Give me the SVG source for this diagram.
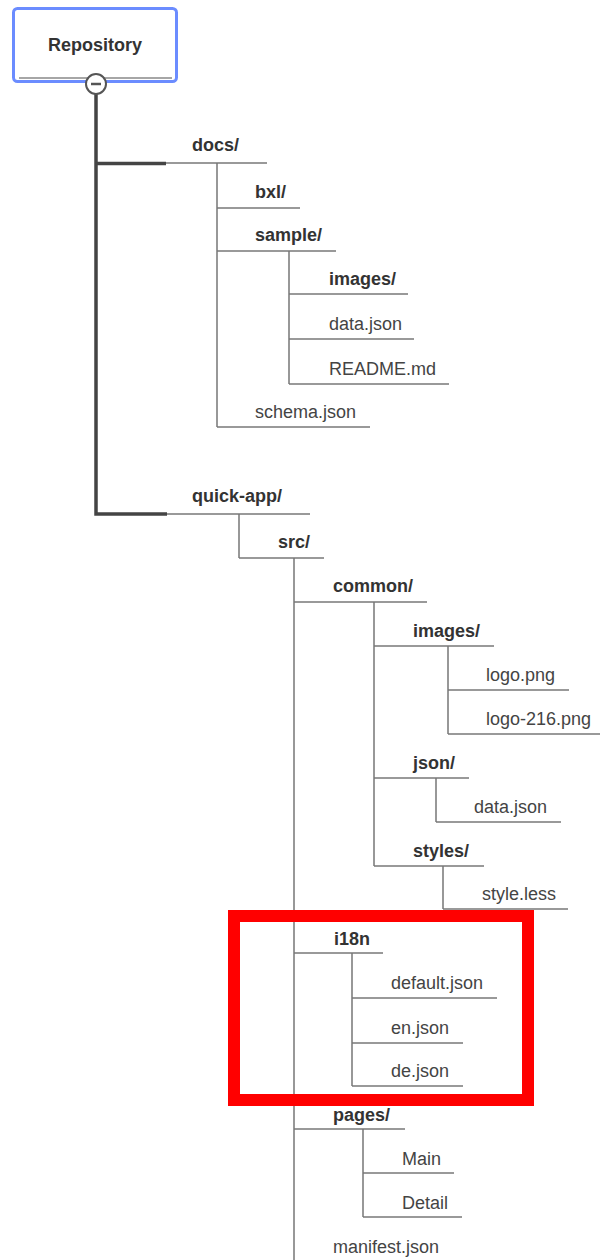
<svg xmlns="http://www.w3.org/2000/svg" width="600" height="1260" viewBox="0 0 600 1260">
<style>
.t{font-family:"Liberation Sans",Arial,sans-serif;font-size:18px;fill:#444}
.b{font-weight:bold;fill:#333}
.ln{stroke:#777;stroke-width:1.5;fill:none}
.trunk{stroke:#444;stroke-width:3.5;fill:none}
</style>
<rect width="600" height="1260" fill="#fff"/>
<g id="connectors">
<path class="trunk" d="M96,93 V514 H167 M96,163.5 H166"/>
<path class="ln" d="M217,163 V427 M289,251 V384 M239,514 V558 M294,558 V1260 M374,602 V866 M448,646 V734 M436,778 V822 M443,866 V909 M352,953 V1086 M363,1129 V1217"/>
</g>
<g id="repository">
<rect x="13.5" y="8.5" width="163" height="73" rx="4" fill="#fff" stroke="#6b8cff" stroke-width="3"/>
<line x1="19" y1="78" x2="172" y2="78" stroke="#888" stroke-width="1.5"/>
<text class="t b" x="95" y="51" text-anchor="middle">Repository</text>
<circle cx="96" cy="84" r="10" fill="#fff" stroke="#555" stroke-width="2"/>
<line x1="91" y1="84" x2="101" y2="84" stroke="#555" stroke-width="2.5"/>
</g>
<g id="docs"><line class="ln" x1="166" y1="163" x2="267" y2="163"/><text class="t b" x="192" y="151">docs/</text></g>
<g id="bxl"><line class="ln" x1="217" y1="208" x2="300" y2="208"/><text class="t b" x="255" y="198">bxl/</text></g>
<g id="sample"><line class="ln" x1="217" y1="251" x2="336" y2="251"/><text class="t b" x="255" y="241">sample/</text></g>
<g id="docs-images"><line class="ln" x1="289" y1="294" x2="408" y2="294"/><text class="t b" x="329" y="285">images/</text></g>
<g id="docs-data-json"><line class="ln" x1="289" y1="339" x2="414" y2="339"/><text class="t" x="329" y="330">data.json</text></g>
<g id="readme"><line class="ln" x1="289" y1="384" x2="449" y2="384"/><text class="t" x="329" y="375">README.md</text></g>
<g id="schema"><line class="ln" x1="217" y1="427" x2="370" y2="427"/><text class="t" x="255" y="418">schema.json</text></g>
<g id="quick-app"><line class="ln" x1="167" y1="514" x2="310" y2="514"/><text class="t b" x="192" y="502">quick-app/</text></g>
<g id="src"><line class="ln" x1="239" y1="558" x2="324" y2="558"/><text class="t b" x="278" y="548">src/</text></g>
<g id="common"><line class="ln" x1="294" y1="602" x2="427" y2="602"/><text class="t b" x="333" y="592">common/</text></g>
<g id="common-images"><line class="ln" x1="374" y1="646" x2="494" y2="646"/><text class="t b" x="413" y="637">images/</text></g>
<g id="logo"><line class="ln" x1="448" y1="690" x2="569" y2="690"/><text class="t" x="486" y="681">logo.png</text></g>
<g id="logo-216"><line class="ln" x1="448" y1="734" x2="600" y2="734"/><text class="t" x="486" y="725">logo-216.png</text></g>
<g id="json"><line class="ln" x1="374" y1="778" x2="469" y2="778"/><text class="t b" x="413" y="769">json/</text></g>
<g id="json-data"><line class="ln" x1="436" y1="822" x2="561" y2="822"/><text class="t" x="474" y="813">data.json</text></g>
<g id="styles"><line class="ln" x1="374" y1="866" x2="484" y2="866"/><text class="t b" x="413" y="857">styles/</text></g>
<g id="style-less"><line class="ln" x1="443" y1="909" x2="568" y2="909"/><text class="t" x="482" y="900">style.less</text></g>
<g id="i18n"><line class="ln" x1="294" y1="953" x2="383" y2="953"/><text class="t b" x="334" y="945">i18n</text></g>
<g id="default-json"><line class="ln" x1="352" y1="998" x2="497" y2="998"/><text class="t" x="391" y="989">default.json</text></g>
<g id="en-json"><line class="ln" x1="352" y1="1043" x2="463" y2="1043"/><text class="t" x="391" y="1034">en.json</text></g>
<g id="de-json"><line class="ln" x1="352" y1="1086" x2="463" y2="1086"/><text class="t" x="391" y="1077">de.json</text></g>
<g id="pages"><line class="ln" x1="294" y1="1129" x2="405" y2="1129"/><text class="t b" x="333" y="1121">pages/</text></g>
<g id="main"><line class="ln" x1="363" y1="1173" x2="454" y2="1173"/><text class="t" x="402" y="1165">Main</text></g>
<g id="detail"><line class="ln" x1="363" y1="1217" x2="462" y2="1217"/><text class="t" x="402" y="1209">Detail</text></g>
<g id="manifest"><text class="t" x="333" y="1253">manifest.json</text></g>
<rect id="highlight" x="234" y="916" width="294" height="184" fill="none" stroke="#ff0000" stroke-width="12"/>
</svg>
